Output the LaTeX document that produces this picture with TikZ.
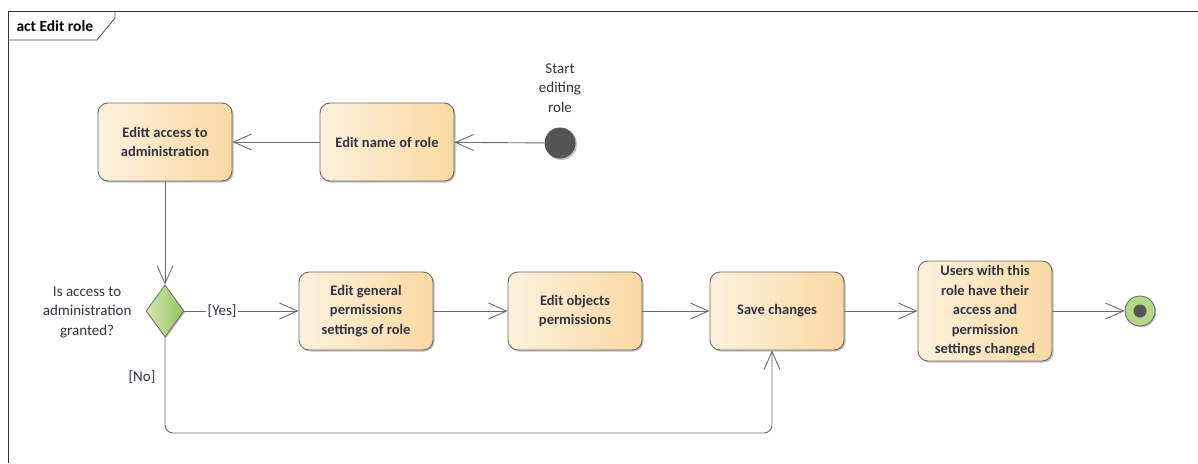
\documentclass[tikz,border=0pt]{standalone}
\usepackage{fontspec}
\setmainfont{Carlito}
\usetikzlibrary{arrows.meta,shapes.geometric,shadows,calc}
\definecolor{boxL}{HTML}{FDF1DE}
\definecolor{boxR}{HTML}{F8D9A2}
\definecolor{edge}{HTML}{6A6A6A}
\definecolor{txt}{HTML}{333340}
\definecolor{decL}{HTML}{D2E8AE}
\definecolor{decR}{HTML}{97C25F}
\definecolor{endG}{HTML}{B3D88A}
\definecolor{dark}{HTML}{555555}
\tikzset{
  actbox/.style={draw=edge, line width=0.9pt, rounded corners=10pt,
    left color=boxL, right color=boxR, minimum width=134pt, minimum height=78pt,
    align=center, text=txt, inner sep=2pt,
    font=\fontsize{14.5}{19.5}\selectfont\bfseries,
    drop shadow={shadow xshift=1.5pt, shadow yshift=-1.5pt, opacity=0.25, fill=black}},
  decbox/.style={diamond, draw=edge, line width=0.8pt, left color=decL, right color=decR,
    minimum width=38pt, minimum height=52pt, aspect=0.73, inner sep=0pt,
    drop shadow={shadow xshift=1.2pt, shadow yshift=-1.2pt, opacity=0.25, fill=black}},
  lbl/.style={text=txt, font=\fontsize{15}{19.5}\selectfont, align=center},
  arr/.style={draw=edge, line width=0.9pt, -{Straight Barb[length=18pt,width=16pt,line width=0.9pt]}},
}
\begin{document}
\begin{tikzpicture}[x=1pt,y=-1pt]
\useasboundingbox (0,0) rectangle (1198,463);
% frame
\draw[line width=1pt, draw=black!80] (8,463) -- (8,11) -- (1198,11);
\draw[line width=0.8pt, draw=black!70] (8,40) -- (97,40) -- (115,18) -- (115,11);
\node[anchor=west, font=\fontsize{15.5}{17}\selectfont\bfseries, text=black] (title) at (13,26) {act Edit role};

% nodes
\node[actbox] (access) at (165,142) {Editt access to\\administration};
\node[actbox] (name) at (387,142) {Edit name of role};
\node[circle, fill=dark, minimum size=31pt, inner sep=0pt,
  drop shadow={shadow xshift=1.5pt, shadow yshift=-1.5pt, opacity=0.25, fill=black}] (start) at (560,143) {};
\node[lbl] (startlbl) at (560,88) {Start\\editing\\role};

\node[decbox] (dec) at (165,311) {};
\node[lbl, anchor=east] (declbl) at (135,312) {Is access to\\administration\\granted?};

\node[actbox] (gen) at (366,311) {Edit general\\permissions\\settings of role};
\node[actbox] (obj) at (575,311) {Edit objects\\permissions};
\node[actbox] (save) at (777,311) {Save changes};
\node[actbox, minimum height=100pt] (users) at (985,311) {Users with this\\role have their\\access and\\permission\\settings changed};

\node[circle, draw=edge, line width=0.9pt, fill=endG, minimum size=30pt, inner sep=0pt,
  drop shadow={shadow xshift=1.2pt, shadow yshift=-1.2pt, opacity=0.25, fill=black}] (end) at (1140,311) {};
\node[circle, fill=dark, minimum size=13pt, inner sep=0pt] (endin) at (end.center) {};

% connectors
\draw[arr] (start) -- (name);
\draw[arr] (name) -- (access);
\draw[arr] (access) -- (dec.north);
\draw[arr] (dec.east) -- node[lbl, pos=0.33, fill=white, inner sep=1.5pt] (yes) {[Yes]} (gen);
\draw[arr] (gen) -- (obj);
\draw[arr] (obj) -- (save);
\draw[arr] (save) -- (users);
\draw[arr] (users) -- (end);
\coordinate (nocorner) at (772,433);
\draw[arr, rounded corners=8pt] (dec.south) |- (nocorner) -- (nocorner |- save.south);
\node[lbl] (nolbl) at (142,377) {[No]};
\end{tikzpicture}
\end{document}
